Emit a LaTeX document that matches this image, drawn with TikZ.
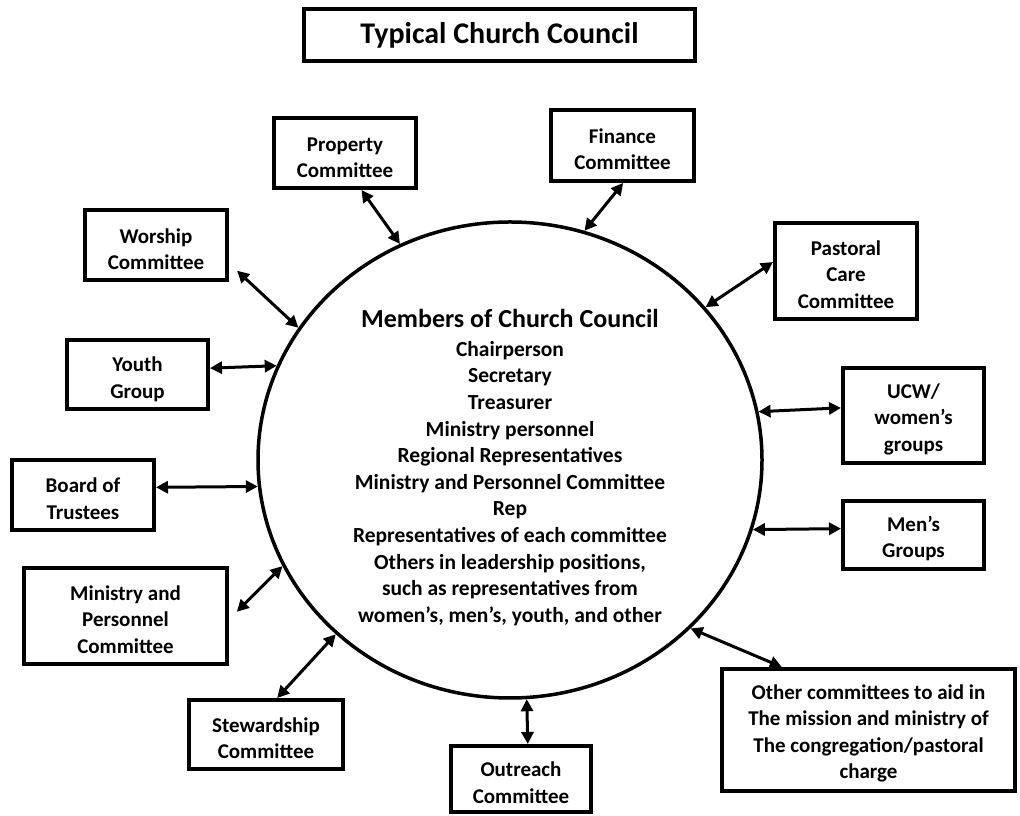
\documentclass[tikz,border=0pt]{standalone}
\usepackage{fontspec}
\setmainfont{Carlito}
\usetikzlibrary{arrows.meta,shapes.geometric}
\newcommand\toppad[1]{\rule{0pt}{#1}}
\begin{document}
\begin{tikzpicture}[x=1pt,y=1pt,
  box/.style={draw, line width=4pt, inner sep=0pt, outer sep=2pt, align=center,
    font=\bfseries\fontsize{21}{26.5}\selectfont},
  council/.style={draw, ellipse, line width=3.5pt, inner sep=0pt, outer sep=1.75pt,
    minimum width=504, minimum height=476, align=center,
    font=\bfseries\fontsize{21.5}{26.6}\selectfont},
  conn/.style={line width=3pt, {Triangle[length=12pt,width=12pt]}-{Triangle[length=12pt,width=12pt]}}
]
\useasboundingbox (0,0) rectangle (1020,816);
\fill[white] (0,0) rectangle (1020,816);

\node[draw, line width=4pt, inner sep=0pt, outer sep=2pt, minimum width=391, minimum height=52, font=\bfseries\fontsize{30}{36}\selectfont] (title) at (499.5,781) {Typical Church Council};

\node[council] (council) at (510,356) {\toppad{33pt}{\fontsize{26}{30}\selectfont Members of Church Council}\\[2.4pt]
Chairperson\\ Secretary\\ Treasurer\\ Ministry personnel\\ Regional Representatives\\
Ministry and Personnel Committee\\ Rep\\ Representatives of each committee\\
Others in leadership positions,\\ such as representatives from\\ women’s, men’s, youth, and other};

\node[box, minimum width=142, minimum height=70] (prop) at (345,663) {\toppad{23pt}Property\\Committee};
\node[box, minimum width=142, minimum height=70] (worship) at (156,571) {\toppad{23pt}Worship\\Committee};
\node[box, minimum width=143, minimum height=71] (finance) at (622.5,670.5) {\toppad{22pt}Finance\\Committee};
\node[box, minimum width=142, minimum height=96] (pastoral) at (846,545) {\toppad{22pt}Pastoral\\Care\\Committee};
\node[box, minimum width=141, minimum height=69] (youth) at (137.5,441.5) {\toppad{24pt}Youth\\Group};
\node[box, minimum width=142, minimum height=70] (board) at (83,321) {\toppad{22pt}Board of\\Trustees};
\node[box, minimum width=203, minimum height=96] (ministry) at (125.5,200) {\toppad{22pt}Ministry and\\Personnel\\Committee};
\node[box, minimum width=154, minimum height=69] (steward) at (266,81.5) {\toppad{22pt}Stewardship\\Committee};
\node[box, minimum width=140, minimum height=66] (outreach) at (521,37) {\toppad{22pt}Outreach\\Committee};
\node[box, minimum width=293, minimum height=122] (other) at (868.5,86) {\toppad{22pt}Other committees to aid in\\The mission and ministry of\\The congregation/pastoral\\charge};
\node[box, minimum width=141, minimum height=95] (ucw) at (913.5,400.5) {\toppad{22pt}UCW/\\women’s\\groups};
\node[box, minimum width=141, minimum height=68] (mens) at (913.5,281) {\toppad{22pt}Men’s\\Groups};

\draw[conn] (prop.-66.4) -- (council.117.2);
\draw[conn, shorten <=11pt] (worship.-14.6) -- (council.148.8);
\draw[conn] (finance.-89) -- (council.72.1);
\draw[conn] (pastoral.173.7) -- (council.38.1);
\draw[conn] (youth.5.7) -- (council.158.2);
\draw[conn] (board.6.2) -- (council.186.1);
\draw[conn, shorten <=11pt] (ministry.-2.8) -- (council.205.6);
\draw[conn] (steward.73.7) -- (council.225);
\draw[conn] (outreach.79) -- (council.274.3);
\draw[conn] (other.144.6) -- (council.317.8);
\draw[conn] (ucw.174.1) -- (council.11.9);
\draw[conn] (mens.175.3) -- (council.344.4);
\end{tikzpicture}
\end{document}
